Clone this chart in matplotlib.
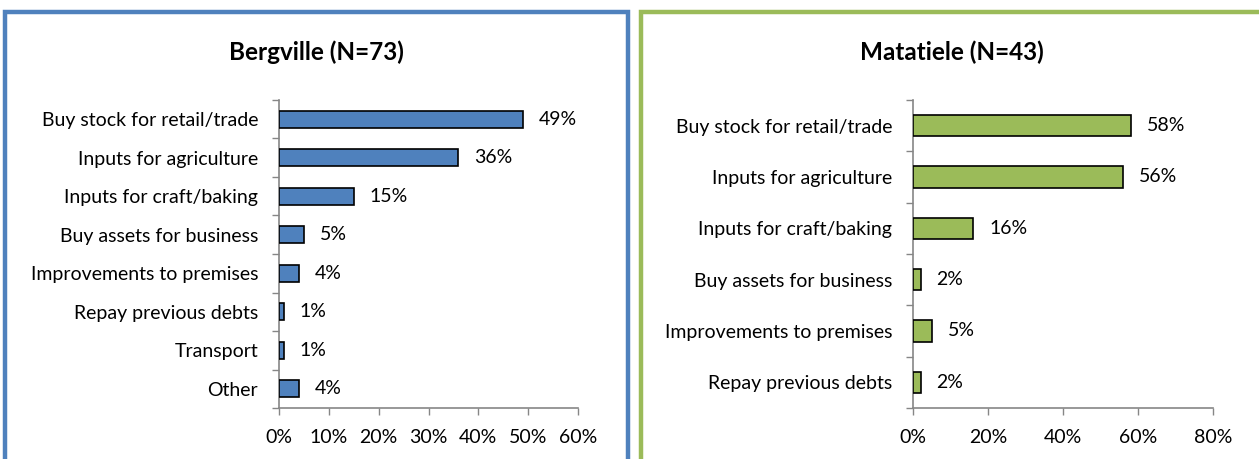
import matplotlib
matplotlib.use("Agg")
import matplotlib.pyplot as plt
from matplotlib.patches import Rectangle
from matplotlib.ticker import FuncFormatter

plt.rcParams['font.family'] = ['Lato', 'DejaVu Sans']

# Bergville
berg_title = "Bergville (N=73)"
berg_categories = ["Buy stock for retail/trade", "Inputs for agriculture", "Inputs for craft/baking",
                   "Buy assets for business", "Improvements to premises", "Repay previous debts",
                   "Transport", "Other"]
berg_values = [49, 36, 15, 5, 4, 1, 1, 4]
berg_ticks = [0, 10, 20, 30, 40, 50, 60]

# Matatiele
mata_title = "Matatiele (N=43)"
mata_categories = ["Buy stock for retail/trade", "Inputs for agriculture", "Inputs for craft/baking",
                   "Buy assets for business", "Improvements to premises", "Repay previous debts"]
mata_values = [58, 56, 16, 2, 5, 2]
mata_ticks = [0, 20, 40, 60, 80]

W, H = 1259, 459
fig = plt.figure(figsize=(W / 100, H / 100), dpi=100)
fig.patch.set_facecolor("white")


def px_axes(x0, x1, y0, y1):
    return fig.add_axes([x0 / W, 1 - y1 / H, (x1 - x0) / W, (y1 - y0) / H])


# panel frames
fig.patches.append(Rectangle((5 / W, -0.05), (623 / W), (1 - 12 / H) + 0.05, transform=fig.transFigure,
                             fill=False, edgecolor="#4F81BD", linewidth=3.2, zorder=0))
fig.patches.append(Rectangle((641 / W, -0.05), (640 / W), (1 - 12 / H) + 0.05, transform=fig.transFigure,
                             fill=False, edgecolor="#9BBB59", linewidth=3.2, zorder=0))

AX_COL = "#868686"
FS = 14


def draw_panel(ax, cats, vals, ticks, color, bar_h, title, title_x):
    n = len(cats)
    ypos = list(range(n))
    ax.barh(ypos, vals, height=bar_h, color=color, edgecolor="black", linewidth=1.2, zorder=3)
    ax.set_ylim(n - 0.5, -0.5)
    ax.set_xlim(ticks[0], ticks[-1])
    ax.set_xticks(ticks)
    ax.xaxis.set_major_formatter(FuncFormatter(lambda v, p: f"{v:.0f}%"))
    ax.set_yticks(ypos)
    ax.set_yticklabels(cats)
    ax.set_yticks([i - 0.5 for i in range(n + 1)], minor=True)
    ax.tick_params(axis="y", which="major", length=0, pad=15, labelsize=FS)
    ax.tick_params(axis="y", which="minor", length=5, width=1, color=AX_COL)
    ax.tick_params(axis="x", which="major", length=5, width=1, color=AX_COL, labelsize=FS, pad=10)
    for s in ["top", "right"]:
        ax.spines[s].set_visible(False)
    for s in ["left", "bottom"]:
        ax.spines[s].set_color(AX_COL)
        ax.spines[s].set_linewidth(1.2)
    for y, v in zip(ypos, vals):
        ax.annotate(f"{v}%", (v, y), xytext=(11.5, 0), textcoords="offset points",
                    va="center", ha="left", fontsize=FS)
    fig.text(title_x / W, 1 - 52 / H, title, ha="center", va="center",
             fontsize=17.5, fontweight="bold")


ax1 = px_axes(279, 578, 100, 408)
draw_panel(ax1, berg_categories, berg_values, berg_ticks, "#4F81BD", 0.44, berg_title, 316)

ax2 = px_axes(913, 1213, 100, 408)
draw_panel(ax2, mata_categories, mata_values, mata_ticks, "#9BBB59", 0.41, mata_title, 952)

fig.savefig("out.png", dpi=100, facecolor="white")
